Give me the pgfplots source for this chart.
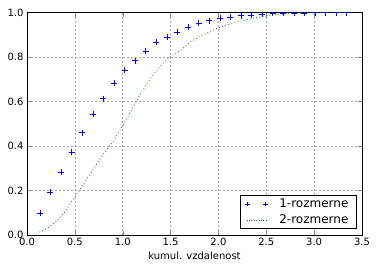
\documentclass[border=0pt]{standalone}
\usepackage{pgfplots}
\pgfplotsset{compat=1.18}
\usepackage{fontspec}
\setmainfont{DejaVu Sans}
\definecolor{mplgreen}{rgb}{0,0.5,0}
\begin{document}
\begin{tikzpicture}
\useasboundingbox (-27pt,-36pt) rectangle (350pt,235pt);
\begin{axis}[
  scale only axis, width=335pt, height=222.5pt,
  xmin=0, xmax=3.5, ymin=0, ymax=1,
  xtick={0,0.5,...,3.5}, ytick={0,0.2,...,1.0},
  xticklabel style={/pgf/number format/.cd, fixed, fixed zerofill, precision=1},
  yticklabel style={/pgf/number format/.cd, fixed, fixed zerofill, precision=1},
  /pgf/number format/assume math mode=true,
  tick label style={font=\fontsize{10}{12}\selectfont},
  label style={font=\fontsize{10}{12}\selectfont},
  xlabel={kumul. vzdalenost},
  xlabel style={yshift=1pt},
  tick align=inside, major tick length=4pt,
  grid=major,
  major grid style={gray!70, dash pattern=on 2pt off 2pt, line width=0.5pt},
  axis line style={line width=0.8pt},
  clip=true, clip mode=individual, clip marker paths=true,
  legend style={at={(0.983,0.026)}, anchor=south east, draw=black, line width=0.8pt,
    font=\fontsize{12}{14}\selectfont, row sep=1pt, inner xsep=5pt, inner ysep=1pt,
    nodes={inner sep=2.5pt},
    /tikz/every odd column/.append style={column sep=9pt}},
  legend cell align=left,
]
\addplot[only marks, mark=+, blue, mark size=3pt, mark options={line width=0.4pt},
  legend image code/.code={\draw[mark=+, mark size=2.2pt, line width=0.4pt] plot coordinates {(0pt,0pt)} (18pt,0pt) plot coordinates {(18pt,0pt)};}]
coordinates {
(0.135,0.0975) (0.2455,0.192) (0.356,0.282) (0.4665,0.372) (0.577,0.46)
(0.6875,0.542) (0.798,0.613) (0.9085,0.682) (1.019,0.74) (1.1295,0.784)
(1.24,0.827) (1.3505,0.866) (1.461,0.889) (1.5715,0.911) (1.682,0.934)
(1.7925,0.951) (1.903,0.964) (2.0135,0.975) (2.124,0.981) (2.2345,0.986)
(2.345,0.99) (2.4555,0.994) (2.566,0.996) (2.6765,0.997) (2.787,0.998)
(2.8975,0.999) (3.008,1.0) (3.1185,1.0) (3.229,1.0) (3.3395,1.0)
};
\addlegendentry{1-rozmerne}
\addplot[mplgreen, dash pattern=on 0.8pt off 2.4pt, line width=0.8pt, no marks,
  legend image code/.code={\draw[dash pattern=on 0.8pt off 1.6pt, line width=0.7pt] (-1pt,0pt) -- (19pt,0pt);}]
coordinates {
(0.13,0.013) (0.2,0.027) (0.3,0.058) (0.4,0.105) (0.5,0.172) (0.6,0.235)
(0.7,0.30) (0.8,0.365) (0.9,0.42) (1.0,0.49) (1.1,0.568) (1.2,0.645)
(1.3,0.71) (1.4,0.763) (1.5,0.803) (1.6,0.828) (1.7,0.866) (1.8,0.891)
(1.9,0.912) (2.0,0.931) (2.2,0.958) (2.4,0.978) (2.6,0.99) (2.8,0.997)
(3.0,1.0) (3.35,1.0)
};
\addlegendentry{2-rozmerne}
\end{axis}
\end{tikzpicture}
\end{document}
